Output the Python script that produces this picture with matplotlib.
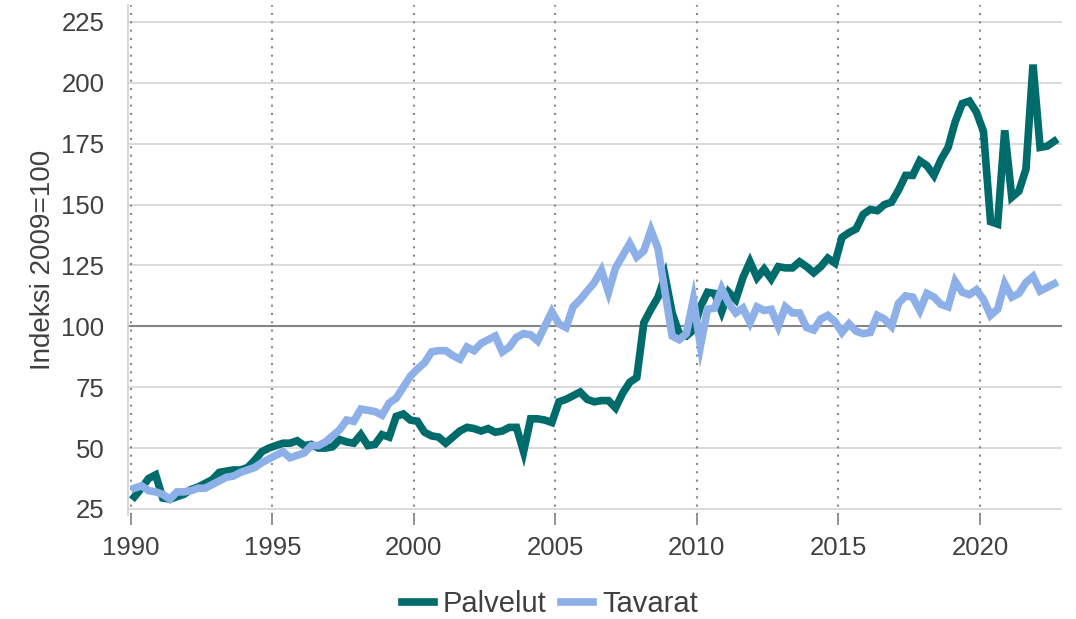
import matplotlib
matplotlib.use("Agg")
import matplotlib.pyplot as plt
import numpy as np

plt.rcParams['font.family'] = ['Liberation Sans', 'DejaVu Sans']

# quarterly index values 2009=100, 1990Q1 .. 2022Q3
palvelut = [
    30, 33.5, 37.5, 39,        # 1990
    29.5, 29, 30, 31,          # 1991
    33, 34, 35.5, 37,          # 1992
    40, 40.5, 41, 41,          # 1993
    42, 45, 48.5, 50,          # 1994
    51, 52, 52, 53,            # 1995
    51, 51.5, 50, 50,          # 1996
    50.5, 53.5, 52.5, 52,      # 1997
    55.5, 51, 51.5, 55.5,      # 1998
    54.5, 63, 64, 61.5,        # 1999
    61, 56.5, 55, 54.5,        # 2000
    52, 54.5, 57, 58.5,        # 2001
    58, 57, 58, 56.5,          # 2002
    57, 58.5, 58.5, 48.5,      # 2003
    62, 62, 61.5, 60.5,        # 2004
    69, 70, 71.5, 73,          # 2005
    70, 69, 69.5, 69.5,        # 2006
    66.5, 72.5, 77, 79,        # 2007
    101.5, 107, 112, 120.5,    # 2008
    105.5, 97, 96, 98.5,       # 2009
    108, 114, 113.5, 106,      # 2010
    114, 111, 120, 126.5,      # 2011
    120, 123.5, 119.5, 124.5,  # 2012
    124, 124, 126.5, 124.5,    # 2013
    122, 124.5, 128, 126,      # 2014
    136.5, 138.5, 140, 146,    # 2015
    148, 147.5, 150, 151,      # 2016
    156, 162, 162, 168,        # 2017
    166, 162, 168.5, 173.5,    # 2018
    184, 191.5, 192.5, 188,    # 2019
    180, 143, 142, 180.5,      # 2020
    153, 155.5, 164.5, 207.5,  # 2021
    173.5, 174, 176,           # 2022
]
tavarat = [
    33.5, 34.5, 32.5, 32,      # 1990
    31, 29, 32, 32,            # 1991
    32.5, 33.5, 33.5, 35,      # 1992
    36.5, 38, 38.5, 40,        # 1993
    41, 42, 44, 45.5,          # 1994
    47, 48.5, 46, 47,          # 1995
    48, 51, 51, 52.5,          # 1996
    55, 57.5, 61.5, 61,        # 1997
    66, 65.5, 65, 63.5,        # 1998
    68.5, 70.5, 75, 79.5,      # 1999
    82.5, 85, 89.5, 90,        # 2000
    90, 88, 86.5, 91.5,        # 2001
    90, 93, 94.5, 96,          # 2002
    89.5, 91.5, 95.5, 97,      # 2003
    96.5, 94, 100, 106,        # 2004
    101, 99.5, 108, 111,       # 2005
    114.5, 118, 123, 114,      # 2006
    124, 129, 134, 128.5,      # 2007
    131, 139.5, 132, 114,      # 2008
    96, 94.5, 97, 111,         # 2009
    92, 107, 107.5, 115.5,     # 2010
    109.5, 105.5, 107.5, 101.5,  # 2011
    108, 106.5, 107, 100,      # 2012
    108, 105.5, 105.5, 99.5,   # 2013
    98.5, 103, 104.5, 102,     # 2014
    97.5, 101, 98, 97,         # 2015
    97.5, 104.5, 103, 100,     # 2016
    109.5, 112.5, 112, 106.5,  # 2017
    113.5, 112, 109, 108,      # 2018
    118.5, 114, 113, 115,      # 2019
    111, 104.5, 107, 117.5,    # 2020
    112, 113.5, 118, 120.5,    # 2021
    114.5, 116, 117.5,         # 2022
]
start_year = 1990
year_ticks = [1990, 1995, 2000, 2005, 2010, 2015, 2020]
y_ticks = [25, 50, 75, 100, 125, 150, 175, 200, 225]

# mid-quarter positions
t = start_year + (np.arange(len(palvelut)) + 0.5) / 4

fig = plt.figure(figsize=(10.76, 6.19), dpi=100)
ax = fig.add_axes([0.119, 0.168, 0.868, 0.824])

txt = '#404040'
for y in y_ticks:
    if y == 100:
        ax.axhline(y, color='#858585', lw=1.5, zorder=1)
    else:
        ax.axhline(y, color='#d4d4d4', lw=1.2, zorder=1)
for x in year_ticks:
    ax.axvline(x, color='#8a8a8a', lw=1.5, ls=(0, (1, 3)), zorder=1)

ax.plot(t, palvelut, color='#006b6b', lw=5.5, label='Palvelut', zorder=3,
        solid_joinstyle='miter')
ax.plot(t, tavarat, color='#8db0e8', lw=5.5, label='Tavarat', zorder=4,
        solid_joinstyle='miter')

ax.set_xlim(1989.9, 2022.9)
ax.set_ylim(22.5, 232)
ax.set_xticks(year_ticks)
ax.set_yticks(y_ticks)
ax.tick_params(axis='x', length=7, width=1.2, color='#808080', pad=8,
               labelsize=18.5, labelcolor=txt)
ax.tick_params(axis='y', length=0, pad=17, labelsize=18.5, labelcolor=txt)

for s in ['top', 'right', 'bottom']:
    ax.spines[s].set_visible(False)
ax.spines['left'].set_color('#d0d0d0')
ax.spines['left'].set_linewidth(1.2)

ax.set_ylabel('Indeksi 2009=100', fontsize=20, color=txt, labelpad=4)

fig.legend(loc='center', bbox_to_anchor=(0.511, 0.024), ncol=2,
           frameon=False, fontsize=21, handlelength=1.1, handletextpad=0.3,
           columnspacing=0.5, labelcolor=txt)

fig.savefig('out.png', dpi=100)
